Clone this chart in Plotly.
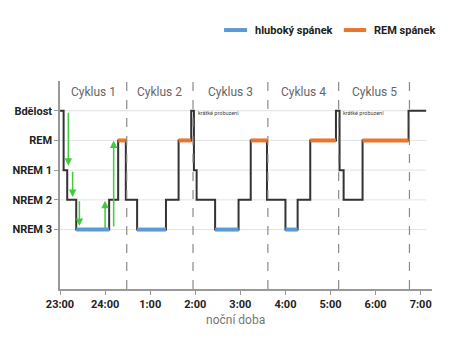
import plotly.graph_objects as go

# ---- data ----
stage_names = ["NREM 3", "NREM 2", "NREM 1", "REM", "Bdělost"]
stage_values = [0, 1, 2, 3, 4]

tick_hours = [0, 1, 2, 3, 4, 5, 6, 7, 8]
tick_labels = ["23:00", "24:00", "1:00", "2:00", "3:00", "4:00", "5:00", "6:00", "7:00"]

# hours after 23:00 at which a new stage starts
change_times = [0.0, 0.08, 0.16, 0.36, 1.09, 1.29, 1.46, 1.71, 2.35, 2.63, 2.91, 2.97,
                3.03, 3.44, 3.96, 4.23, 4.59, 5.00, 5.27, 5.55, 6.12, 6.20, 6.29, 6.71, 7.73]
stages = [4, 2, 1, 0, 1, 3, 1, 0, 1, 3, 4, 2,
          1, 0, 1, 3, 1, 0, 1, 3, 4, 2, 1, 3, 4]
end_time = 8.12

cycle_bounds = [0.0, 1.48, 2.95, 4.61, 6.18, 7.75]
cycle_labels = ["Cyklus 1", "Cyklus 2", "Cyklus 3", "Cyklus 4", "Cyklus 5"]

awakening_note = "krátké probuzení"
awakening_note_x = [3.01, 6.23]

# green arrows: (x, y_from, y_to)
arrows_x = [0.185, 0.28, 0.43, 1.0, 1.19]
arrows_from = [3.98, 2.0, 1.0, 0.0, 0.05]
arrows_to = [2.15, 1.1, 0.12, 0.97, 3.0]

x_title = "noční doba"
legend_deep = "hluboký spánek"
legend_rem = "REM spánek"

BLUE = "#5b9bd5"
ORANGE = "#e8762d"
GREEN = "#3ccc3c"

fig = go.Figure()

# hypnogram step line
xs = change_times + [end_time]
ys = stages + [stages[-1]]
fig.add_trace(go.Scatter(x=xs, y=ys, mode="lines", line=dict(color="#333333", width=2, shape="hv"),
                         hoverinfo="skip", showlegend=False))

# colored segments
def seg(level):
    sx, sy = [], []
    for i, s in enumerate(stages):
        if s == level:
            t0 = change_times[i]
            t1 = change_times[i + 1] if i + 1 < len(change_times) else end_time
            sx += [t0, t1, None]
            sy += [s, s, None]
    return sx, sy

bx, by = seg(0)
fig.add_trace(go.Scatter(x=bx, y=by, mode="lines", line=dict(color=BLUE, width=4),
                         name=legend_deep, showlegend=False))
ox, oy = seg(3)
fig.add_trace(go.Scatter(x=ox, y=oy, mode="lines", line=dict(color=ORANGE, width=4),
                         name=legend_rem, showlegend=False))

shapes = []
# gridlines
for v in stage_values:
    shapes.append(dict(type="line", xref="x", yref="y", x0=0, x1=end_time, y0=v, y1=v,
                       line=dict(color="#e3e3e3", width=1), layer="below"))
# cycle dashed lines
for b in cycle_bounds[1:]:
    shapes.append(dict(type="line", xref="x", yref="paper", x0=b, x1=b, y0=0, y1=1,
                       line=dict(color="#8a8a8a", width=1.2, dash="dash"), layer="above"))

# manual legend
shapes.append(dict(type="line", xref="paper", yref="paper", x0=0.441, x1=0.503, y0=1.245, y1=1.245,
                   line=dict(color=BLUE, width=4)))
shapes.append(dict(type="line", xref="paper", yref="paper", x0=0.763, x1=0.823, y0=1.245, y1=1.245,
                   line=dict(color=ORANGE, width=4)))

annotations = []
for i, lab in enumerate(cycle_labels):
    annotations.append(dict(x=(cycle_bounds[i] + cycle_bounds[i + 1]) / 2, y=4.63, xref="x", yref="y",
                            text=lab, showarrow=False,
                            font=dict(family="Roboto", size=12, color="#666666")))
for xn in awakening_note_x:
    annotations.append(dict(x=xn, y=3.93, xref="x", yref="y", text=awakening_note, showarrow=False,
                            xanchor="left", yanchor="middle",
                            font=dict(family="Roboto", size=5.5, color="#444444")))
for xa, y0, y1 in zip(arrows_x, arrows_from, arrows_to):
    annotations.append(dict(x=xa, y=y1, ax=xa, ay=y0, xref="x", yref="y", axref="x", ayref="y",
                            text="", showarrow=True, arrowhead=2, arrowsize=1, arrowwidth=1.5,
                            arrowcolor=GREEN, standoff=0, startstandoff=0))
annotations.append(dict(x=0.519, y=1.245, xref="paper", yref="paper", text="<b>" + legend_deep + "</b>",
                        showarrow=False, xanchor="left", yanchor="middle",
                        font=dict(family="Roboto", size=11, color="#222222")))
annotations.append(dict(x=0.839, y=1.245, xref="paper", yref="paper", text="<b>" + legend_rem + "</b>",
                        showarrow=False, xanchor="left", yanchor="middle",
                        font=dict(family="Roboto", size=11, color="#222222")))
annotations.append(dict(x=0.472, y=-0.149, xref="paper", yref="paper", text=x_title, showarrow=False,
                        xanchor="center", yanchor="middle",
                        font=dict(family="Roboto", size=12, color="#777777")))

fig.update_layout(
    width=474, height=352,
    margin=dict(l=60, r=42, t=81, b=63),
    paper_bgcolor="white", plot_bgcolor="white",
    showlegend=False,
    shapes=shapes, annotations=annotations,
    font=dict(family="Roboto"),
)
fig.update_xaxes(range=[0, 8.25], tickvals=tick_hours, ticktext=["<b>" + t + "</b>" for t in tick_labels],
                 showgrid=False, zeroline=False, showline=True, linecolor="#999999", linewidth=1.5,
                 ticks="outside", ticklen=4, tickcolor="#999999",
                 tickfont=dict(family="Roboto", size=11, color="#222222"))
fig.update_yaxes(range=[-2, 5], tickvals=stage_values, ticktext=["<b>" + s + "</b>" for s in stage_names],
                 showgrid=False, zeroline=False, showline=True, linecolor="#999999", linewidth=1.5,
                 ticks="outside", ticklen=4, tickcolor="#999999",
                 tickfont=dict(family="Roboto", size=11, color="#222222"))

fig.write_html("out.html")
